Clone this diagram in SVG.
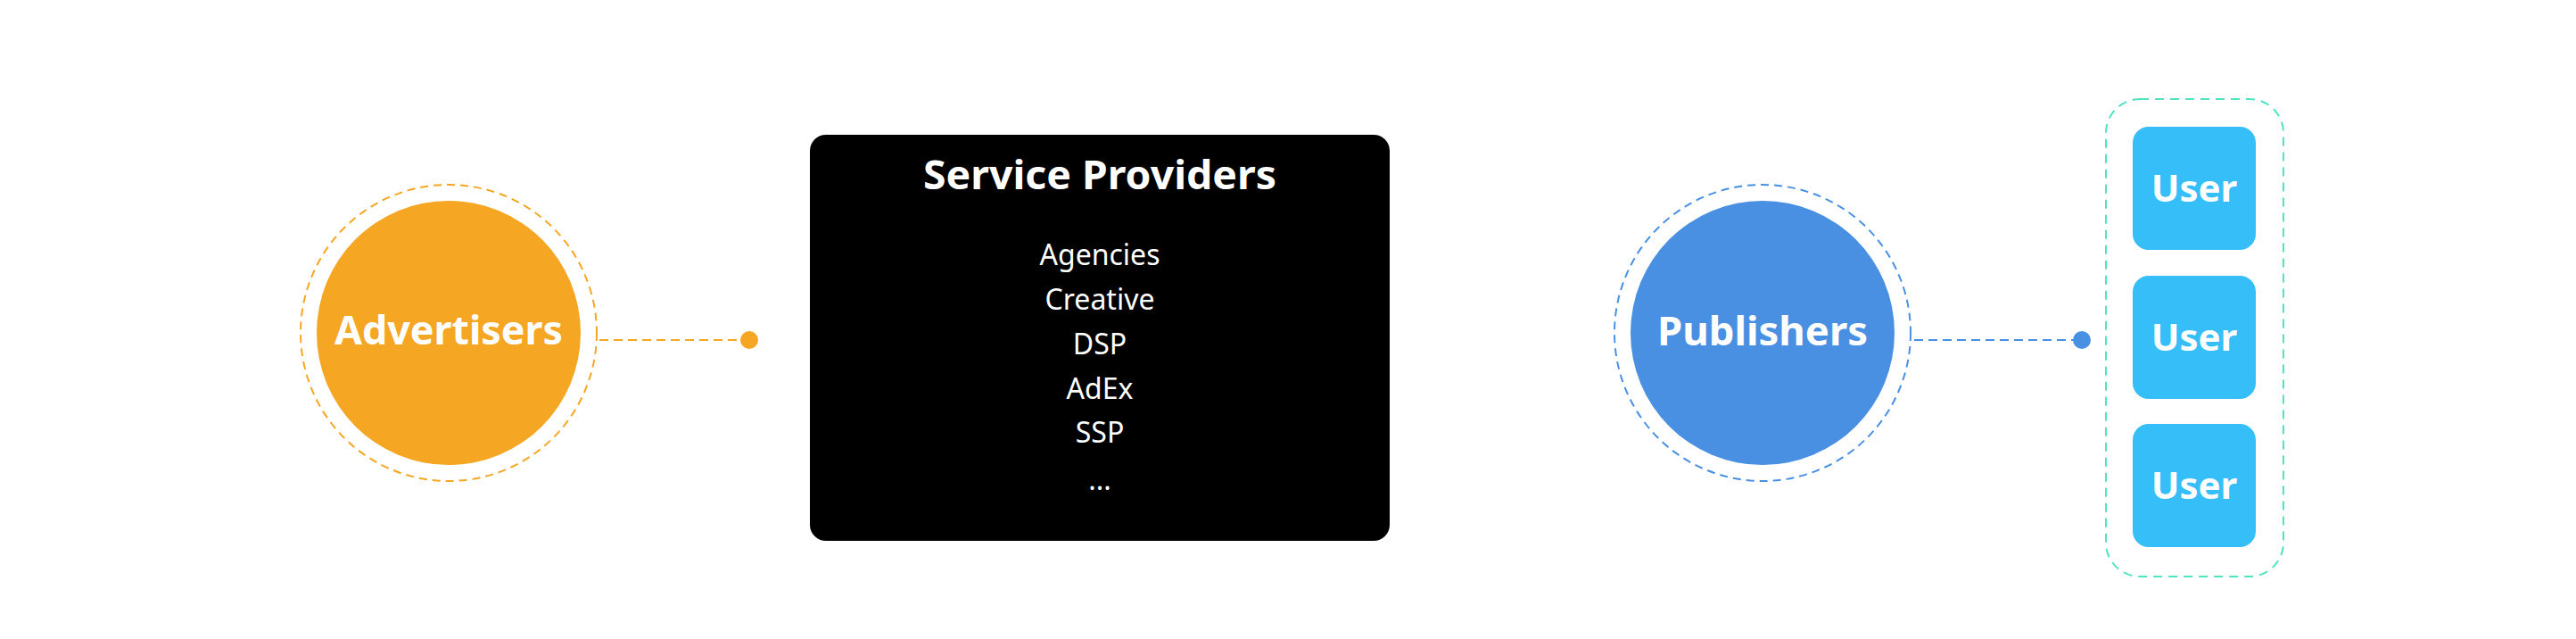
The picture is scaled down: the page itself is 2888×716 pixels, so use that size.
<svg xmlns="http://www.w3.org/2000/svg" width="2888" height="716" viewBox="0 0 2888 716">
<style>
.bold{font-family:"Noto Sans","Liberation Sans",sans-serif;font-weight:700;fill:#fff;text-anchor:middle}
.reg{font-family:"Noto Sans","Liberation Sans",sans-serif;font-weight:400;fill:#fff;text-anchor:middle;font-size:32px}
.ring{fill:none;stroke-width:2;stroke-dasharray:9 6}
.conn{fill:none;stroke-width:2;stroke-dasharray:10 6}
.user{fill:#35BEF8}
</style>
<rect width="2888" height="716" fill="#fff"/>
<g id="connectors">
  <line class="conn" x1="672" y1="381" x2="840" y2="381" stroke="#F5A623"/>
  <circle cx="840" cy="381" r="10" fill="#F5A623"/>
  <line class="conn" x1="2146" y1="381" x2="2334" y2="381" stroke="#4A90E2"/>
  <circle cx="2334" cy="381" r="10" fill="#4A90E2"/>
</g>
<g id="advertisers">
  <circle class="ring" cx="503" cy="373" r="166" stroke="#F5A623"/>
  <circle cx="503" cy="373" r="148" fill="#F5A623"/>
  <text class="bold" x="503" y="386" font-size="44" textLength="256" lengthAdjust="spacingAndGlyphs">Advertisers</text>
</g>
<g id="service-providers">
  <rect x="908" y="151" width="650" height="455" rx="18" fill="#000"/>
  <text class="bold" x="1233" y="212" font-size="44" textLength="396" lengthAdjust="spacingAndGlyphs">Service Providers</text>
  <text class="reg" x="1233" y="297">Agencies</text>
  <text class="reg" x="1233" y="347">Creative</text>
  <text class="reg" x="1233" y="397">DSP</text>
  <text class="reg" x="1233" y="447">AdEx</text>
  <text class="reg" x="1233" y="496">SSP</text>
  <text class="reg" x="1233" y="549">...</text>
</g>
<g id="publishers">
  <circle class="ring" cx="1976" cy="373" r="166" stroke="#4A90E2"/>
  <circle cx="1976" cy="373" r="148" fill="#4A90E2"/>
  <text class="bold" x="1976" y="387" font-size="44" textLength="236" lengthAdjust="spacingAndGlyphs">Publishers</text>
</g>
<g id="users">
  <rect x="2361" y="111" width="199" height="535" rx="38" fill="none" stroke="#50E3C2" stroke-width="2" stroke-dasharray="10 7"/>
  <g id="user-1">
    <rect class="user" x="2391" y="142" width="138" height="138" rx="18"/>
    <text class="bold" x="2460" y="226" font-size="42">User</text>
  </g>
  <g id="user-2">
    <rect class="user" x="2391" y="309" width="138" height="138" rx="18"/>
    <text class="bold" x="2460" y="393" font-size="42">User</text>
  </g>
  <g id="user-3">
    <rect class="user" x="2391" y="475" width="138" height="138" rx="18"/>
    <text class="bold" x="2460" y="559" font-size="42">User</text>
  </g>
</g>
</svg>
